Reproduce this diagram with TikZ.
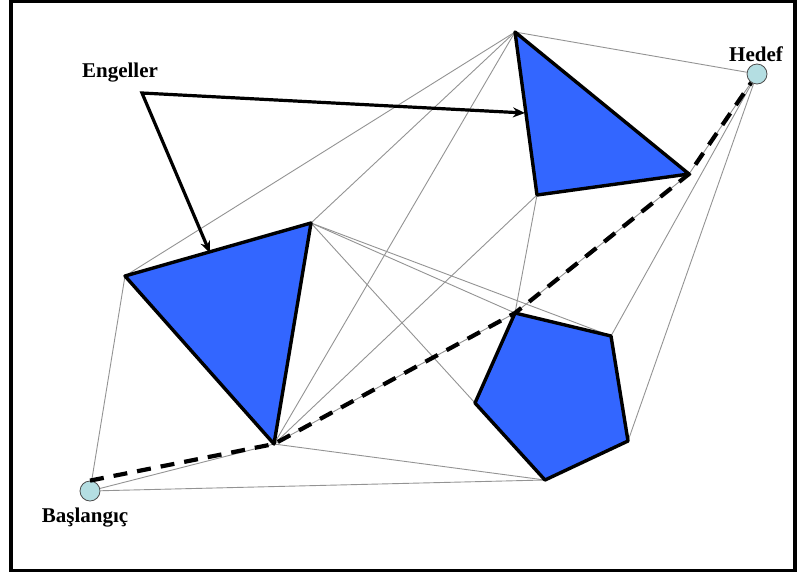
\documentclass[tikz,border=0pt]{standalone}
\usepackage{fontspec}
\setmainfont{Liberation Serif}
\usetikzlibrary{arrows.meta}

\definecolor{engelmavi}{RGB}{51,102,255}
\definecolor{noktarenk}{RGB}{180,222,226}

\tikzset{
  engel/.style={draw=black, line width=3.4pt, fill=engelmavi, line join=round},
  kenar/.style={draw=gray!85, line width=0.9pt},
  yol/.style={draw=black, line width=4.2pt, dash pattern=on 14pt off 10pt},
  nokta/.style={circle, draw=black!70, line width=0.8pt, fill=noktarenk, minimum size=20pt, inner sep=0pt},
  etiket/.style={font=\bfseries\fontsize{21}{23}\selectfont, inner sep=0pt},
}

\begin{document}
\begin{tikzpicture}[x=1pt, y=-1pt, >={Stealth[length=12pt, width=10pt]}]
    \useasboundingbox (0,0) rectangle (798,574);

    % çerçeve
    \draw[line width=3.8pt] (11,1.5) rectangle (795,570.5);

    % engellerin köşeleri
    \coordinate (A) at (125,276);
    \coordinate (B) at (311,223);
    \coordinate (C) at (274,444);
    \coordinate (D) at (515,32);
    \coordinate (E) at (689,174);
    \coordinate (F) at (537,195);
    \coordinate (P1) at (515,313);
    \coordinate (P2) at (611,336);
    \coordinate (P3) at (628,441);
    \coordinate (P4) at (545,480);
    \coordinate (P5) at (475,403);

    % başlangıç ve hedef noktaları
    \node[nokta] (S) at (90,491) {};
    \node[nokta] (G) at (757,74) {};

    % görünürlük grafiği
    \foreach \u/\v in {S/A, S/C, S/P4, C/P4, A/D, B/D, C/D, C/F, C/P1,
                       B/P1, B/P2, B/P5, F/P1, D/G, G/P2, G/P3, E/G, P1/E} {
        \draw[kenar] (\u) -- (\v);
    }

    % engeller
    \draw[engel] (A) -- (B) -- (C) -- cycle;
    \draw[engel] (D) -- (E) -- (F) -- cycle;
    \draw[engel] (P1) -- (P2) -- (P3) -- (P4) -- (P5) -- cycle;

    % en kısa yol
    \draw[yol] (S.north) -- (C) -- (P1) -- (E) -- (G);

    % etiketler
    \node[etiket] (engeller) at (120,73) {Engeller};
    \node[etiket] (hedef) at (756,54) {Hedef};
    \node[etiket] (baslangic) at (85,518) {Başlangıç};

    % engellere oklar
    \coordinate (ok) at (142,93);
    \coordinate (ok1) at (525,113);
    \coordinate (ok2) at (210,253);
    \draw[<->, line width=3.2pt, line join=miter] (ok2) -- (ok) -- (ok1);
\end{tikzpicture}
\end{document}
